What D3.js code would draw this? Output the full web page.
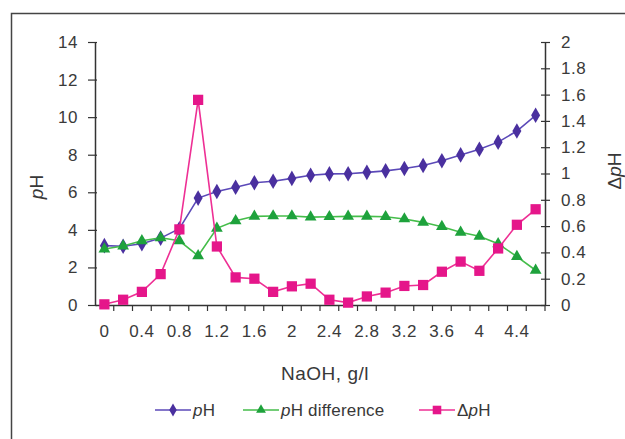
<!DOCTYPE html>
<html>
<head>
<meta charset="utf-8">
<script src="https://cdn.jsdelivr.net/npm/d3@7/dist/d3.min.js"></script>
<style>
  html, body { margin: 0; padding: 0; background: #ffffff; }
  svg { display: block; font-family: "Liberation Sans", Arial, sans-serif; }
  .tick text { fill: #3a3a3a; }
</style>
</head>
<body>
<svg id="chart" width="625" height="439"></svg>
<script>
// NaOH dose, g/l (category axis)
const naoh = [0, 0.2, 0.4, 0.6, 0.8, 1.0, 1.2, 1.4, 1.6, 1.8, 2.0, 2.2,
              2.4, 2.6, 2.8, 3.0, 3.2, 3.4, 3.6, 3.8, 4.0, 4.2, 4.4, 4.6];
const naohLabels = ["0", "0.4", "0.8", "1.2", "1.6", "2", "2.4", "2.8", "3.2", "3.6", "4", "4.4"];

// pH after dosing (left axis)
const pH = [3.16, 3.13, 3.26, 3.56, 4.06, 5.69, 6.04, 6.27, 6.51, 6.59, 6.74, 6.91,
            6.98, 6.99, 7.06, 7.14, 7.27, 7.43, 7.68, 7.99, 8.29, 8.67, 9.26, 10.1];
// pH difference (left axis)
const pHDiff = [2.98, 3.14, 3.42, 3.58, 3.42, 2.62, 4.08, 4.48, 4.72, 4.74, 4.74, 4.68,
                4.7, 4.72, 4.72, 4.7, 4.58, 4.4, 4.17, 3.87, 3.66, 3.26, 2.58, 1.85];
// ΔpH between successive doses (right axis)
const dpH = [0.005, 0.04, 0.1, 0.235, 0.575, 1.56, 0.445, 0.21, 0.2, 0.1, 0.142, 0.162,
             0.04, 0.018, 0.065, 0.094, 0.145, 0.152, 0.253, 0.33, 0.26, 0.43, 0.61, 0.728];

const leftTicks = [0, 2, 4, 6, 8, 10, 12, 14];
const rightTicks = [0, 0.2, 0.4, 0.6, 0.8, 1, 1.2, 1.4, 1.6, 1.8, 2];

const svg = d3.select("#chart");
const plotL = 95, plotR = 545, plotT = 42, plotB = 305;
const axisColor = "#333";
const textColor = "#383838";

// outer frame (top and left edges)
svg.append("path")
  .attr("d", `M11.5,439 V13.5 H625`)
  .attr("fill", "none").attr("stroke", "#444").attr("stroke-width", 1.5);

const x = d3.scaleBand().domain(naoh).range([plotL, plotR]).padding(0);
const yL = d3.scaleLinear().domain([0, 14]).range([plotB, plotT]);
const yR = d3.scaleLinear().domain([0, 2]).range([plotB, plotT]);
const cx = d => x(d) + x.bandwidth() / 2;

// left axis
const gL = svg.append("g").attr("transform", `translate(${plotL},0)`)
  .call(d3.axisLeft(yL).tickValues(leftTicks).tickSizeInner(7).tickSizeOuter(0).tickPadding(10)
        .tickFormat(d3.format("d")));
gL.selectAll(".tick line").attr("x1", 2).attr("x2", -7);

// right axis
const gR = svg.append("g").attr("transform", `translate(${plotR},0)`)
  .call(d3.axisRight(yR).tickValues(rightTicks).tickSizeInner(5).tickSizeOuter(0).tickPadding(11)
        .tickFormat(d => d3.format("~g")(d)));
gR.selectAll(".tick line").attr("x1", -4).attr("x2", 5);

// bottom axis: labels every other category, ticks at category boundaries
const labelCats = naoh.filter(v => naohLabels.includes(String(+v.toFixed(1))));
const gB = svg.append("g").attr("transform", `translate(0,${plotB})`)
  .call(d3.axisBottom(x).tickValues(labelCats).tickSize(0).tickPadding(20)
        .tickFormat(d => String(+d.toFixed(1))));
gB.selectAll(".tick line").remove();
const bounds = naoh.map(d => x(d)).slice(1).concat([plotR]);
gB.selectAll("line.bnd").data(bounds).enter().append("line")
  .attr("class", "bnd")
  .attr("x1", d => d).attr("x2", d => d)
  .attr("y1", 0).attr("y2", 6)
  .attr("stroke", axisColor).attr("stroke-width", 1.2);

[gL, gR, gB].forEach(g => {
  g.select(".domain").attr("stroke", axisColor).attr("stroke-width", 1.5);
  g.selectAll(".tick line").attr("stroke", axisColor).attr("stroke-width", 1.2);
  g.selectAll("text").attr("font-size", 17).attr("letter-spacing", 0.5)
    .attr("fill", textColor).attr("font-family", "Liberation Sans, Arial, sans-serif");
});

// axis titles
const pTitle = svg.append("text")
  .attr("transform", `translate(43,187) rotate(-90)`)
  .attr("text-anchor", "middle").attr("font-size", 19).attr("fill", textColor);
pTitle.append("tspan").attr("font-style", "italic").text("p");
pTitle.append("tspan").text("H");

const dTitle = svg.append("text")
  .attr("transform", `translate(621,171) rotate(-90)`)
  .attr("text-anchor", "middle").attr("font-size", 19).attr("fill", textColor);
dTitle.append("tspan").text("Δ");
dTitle.append("tspan").attr("font-style", "italic").text("p");
dTitle.append("tspan").text("H");

svg.append("text")
  .attr("x", 325).attr("y", 380).attr("text-anchor", "middle")
  .attr("font-size", 19).attr("letter-spacing", 0.5).attr("fill", textColor)
  .text("NaOH, g/l");

// series definitions
const series = [
  { name: "pH", values: pH, y: yL, line: "#5b49b8", fill: "#4a309f", shape: d3.symbolDiamond, size: 70 },
  { name: "pH difference", values: pHDiff, y: yL, line: "#45bd4a", fill: "#1ea23c", shape: d3.symbolTriangle, size: 60 },
  { name: "ΔpH", values: dpH, y: yR, line: "#ee2f94", fill: "#e5168a", shape: d3.symbolSquare, size: 105 }
];

series.forEach(s => {
  const pts = naoh.map((c, i) => [cx(c), s.y(s.values[i])]);
  svg.append("path")
    .attr("d", d3.line()(pts))
    .attr("fill", "none").attr("stroke", s.line).attr("stroke-width", 1.6);
  svg.append("g").selectAll("path").data(pts).enter().append("path")
    .attr("transform", d => `translate(${d[0]},${d[1]})`)
    .attr("d", d3.symbol().type(s.shape).size(s.size))
    .attr("fill", s.fill);
});

// legend
const legendItems = [
  { x: 155, labelParts: [["p", true], ["H", false]], s: series[0] },
  { x: 243, labelParts: [["p", true], ["H difference", false]], s: series[1] },
  { x: 419, labelParts: [["Δ", false], ["p", true], ["H", false]], s: series[2] }
];
const ly = 410;
legendItems.forEach(it => {
  const g = svg.append("g");
  g.append("line").attr("x1", it.x).attr("x2", it.x + 36).attr("y1", ly).attr("y2", ly)
    .attr("stroke", it.s.line).attr("stroke-width", 1.6);
  g.append("path").attr("transform", `translate(${it.x + 18},${ly})`)
    .attr("d", d3.symbol().type(it.s.shape).size(it.s.size * 0.7)).attr("fill", it.s.fill);
  const t = g.append("text").attr("x", it.x + 38).attr("y", ly + 6)
    .attr("font-size", 17).attr("letter-spacing", 0.2).attr("fill", textColor);
  it.labelParts.forEach(([txt, it2]) => t.append("tspan").attr("font-style", it2 ? "italic" : "normal").text(txt));
});
</script>
</body>
</html>
